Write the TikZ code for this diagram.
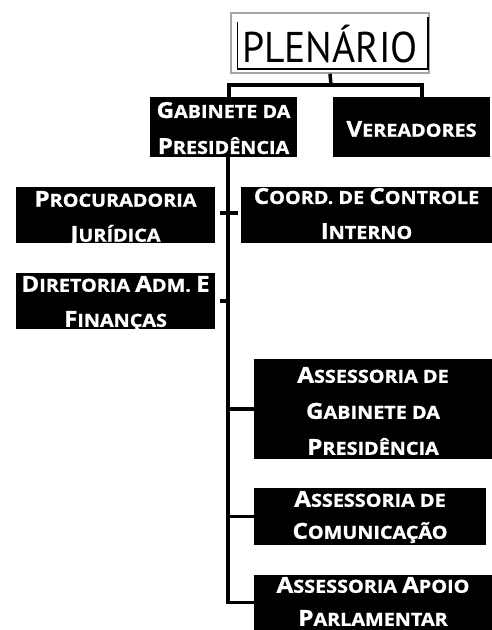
\documentclass[tikz,border=0pt]{standalone}
\usepackage{fontspec}
\setmainfont{Open Sans}[FakeStretch=1.1,BoldFeatures={FakeBold=1.2}]
\newfontfamily\plenfont{PT Sans}
\usetikzlibrary{calc}
\newcommand\SCx[2]{{\fontsize{22}{22}\selectfont #1}{\fontsize{18}{18}\selectfont #2}}
\tikzset{
  blk/.style={fill=black,inner sep=0pt},
  txt/.style={text=white,inner sep=0pt,align=center,anchor=north,font=\bfseries\fontsize{18}{35}\selectfont},
  conn/.style={line width=3.5pt,black},
}
\begin{document}
\begin{tikzpicture}[x=1pt,y=-1pt]
\useasboundingbox (0,0) rectangle (492,630);
\node[draw=gray!70,line width=1.5pt,minimum width=198pt,minimum height=60pt,inner sep=0pt] (plen) at (330,43) {};
\node[inner sep=0pt,font=\plenfont\fontsize{43}{43}\selectfont] (plent) at (330,44) {\scalebox{0.92}[1]{PLENÁRIO}};
\draw[line width=1.5pt] ([xshift=7,yshift=-10]plen.north west) -- ([xshift=7,yshift=5]plen.south west) -- ([xshift=-2,yshift=5]plen.south east) -- ([xshift=-2,yshift=-5]plen.north east);
\node[blk,minimum width=147pt,minimum height=60pt] (gab) at (223.5,127) {};
\node[txt,font=\bfseries\fontsize{18}{36}\selectfont] (gabt) at ([yshift=-5]gab.north) {\SCx{G}{ABINETE DA}\\\SCx{P}{RESIDÊNCIA}};
\node[blk,minimum width=157pt,minimum height=60pt] (ver) at (411.5,127) {};
\node[txt] (vert) at ([yshift=-24]ver.north) {\SCx{V}{EREADORES}};
\node[blk,minimum width=199pt,minimum height=56pt] (proc) at (115.5,215) {};
\node[txt] (proct) at ([yshift=-4]proc.north) {\SCx{P}{ROCURADORIA}\\\SCx{J}{URÍDICA}};
\node[blk,minimum width=251pt,minimum height=56pt] (coord) at (366.5,215) {};
\node[txt] (coordt) at ([yshift=-1]coord.north) {\SCx{C}{OORD. DE }\SCx{C}{ONTROLE}\\\SCx{I}{NTERNO}};
\node[blk,minimum width=199pt,minimum height=56pt] (dir) at (115.5,301) {};
\node[txt] (dirt) at ([yshift=-3]dir.north) {\SCx{D}{IRETORIA }\SCx{A}{DM. }\SCx{E}{}\\\SCx{F}{INANÇAS}};
\node[blk,minimum width=238pt,minimum height=100pt] (asg) at (373,409) {};
\node[txt,font=\bfseries\fontsize{18}{36}\selectfont] (asgt) at ([yshift=-8]asg.north) {\SCx{A}{SSESSORIA DE}\\\SCx{G}{ABINETE DA}\\\SCx{P}{RESIDÊNCIA}};
\node[blk,minimum width=232pt,minimum height=57pt] (asc) at (370,516.5) {};
\node[txt,font=\bfseries\fontsize{18}{32}\selectfont] (asct) at ([yshift=-3]asc.north) {\SCx{A}{SSESSORIA DE}\\\SCx{C}{OMUNICAÇÃO}};
\node[blk,minimum width=238pt,minimum height=55pt] (asa) at (373,602.5) {};
\node[txt,font=\bfseries\fontsize{18}{33}\selectfont] (asat) at ([yshift=-2]asa.north) {\SCx{A}{SSESSORIA }\SCx{A}{POIO}\\\SCx{P}{ARLAMENTAR}};
\coordinate (j) at (331,85);
\coordinate (t) at (228,157);
\draw[conn] (plen.south) -- (j);
\draw[conn] ([xshift=5.5]gab.north) |- (j) -| ([xshift=10.5]ver.north);
\draw[conn] (t) |- (asa.west);
\draw[conn] ([xshift=5,yshift=2]proc.east) -- ([xshift=-3,yshift=2]coord.west);
\draw[conn] ([xshift=5]dir.east) -- (dir.east -| t);
\draw[conn] (asg.west) -- (asg.west -| t);
\draw[conn] (asc.west) -- (asc.west -| t);
\end{tikzpicture}
\end{document}
